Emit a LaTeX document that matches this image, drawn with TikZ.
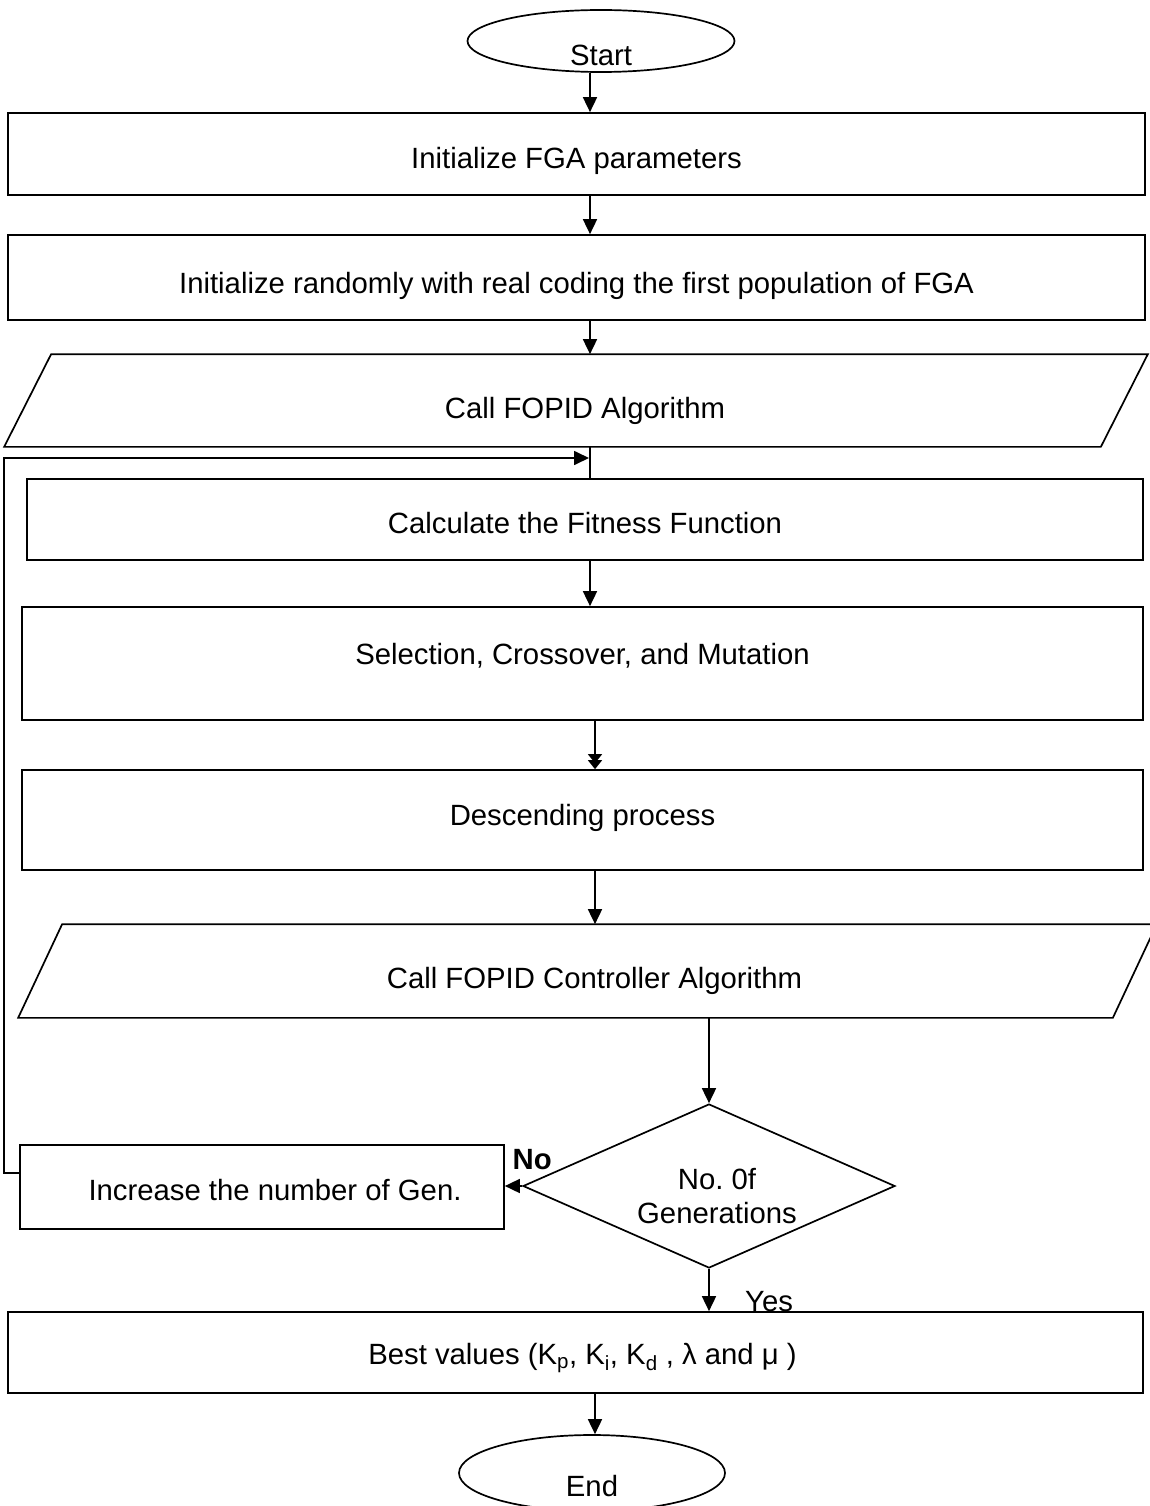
\documentclass[tikz,border=0pt]{standalone}
\usepackage{fontspec}
\setmainfont{Liberation Sans}
\usetikzlibrary{arrows.meta,shapes.geometric,calc}

\begin{document}
\begin{tikzpicture}[x=1pt, y=-1pt, line width=1.7pt]
  % Styles
  \tikzset{
    lab/.style={font=\fontsize{29.3}{34}\selectfont},
    bold/.style={font=\fontsize{29.3}{34}\selectfont\bfseries},
    proc/.style={rectangle,draw,lab,inner sep=0pt,text depth=6pt},
    io/.style={rectangle,lab,inner sep=0pt,text depth=6pt},
    term/.style={ellipse,draw,lab,inner sep=0pt},
    decide/.style={diamond,draw,lab,inner sep=0pt},
    flow/.style={-{Triangle[length=15pt,width=14pt]}},
    dflow/.style={-{Triangle[length=9pt,width=14pt,sep=-3pt]Triangle[length=9pt,width=14pt]}}
  }
  \useasboundingbox (0,0) rectangle (1149,1506);

  %================= MAIN COLUMN =================
  % text height only moves the text up or down inside its box
  \node[term,minimum width=267pt,minimum height=62pt,
        label={[lab,name=start-t,yshift=-14pt]center:Start}] (start) at (601,41) {};

  \node[proc,minimum width=1137pt,minimum height=82pt,text height=35pt] (init) at (576.5,154)
       {Initialize FGA parameters};
  \node[proc,minimum width=1137pt,minimum height=85pt,text height=38pt] (rand) at (576.5,277.5)
       {Initialize randomly with real coding the first population of FGA};
  \node[io,minimum width=1095pt,minimum height=91pt,text height=41pt] (callA) at (576,400.5)
       {\hspace*{18pt}Call FOPID Algorithm};
  \node[proc,minimum width=1116pt,minimum height=81pt,text height=34pt] (fit) at (585,519.5)
       {Calculate the Fitness Function};
  \node[proc,minimum width=1121pt,minimum height=113pt,text height=7pt] (sel) at (582.5,663.5)
       {Selection, Crossover, and Mutation};
  \node[proc,minimum width=1121pt,minimum height=100pt,text height=17pt] (desc) at (582.5,820)
       {Descending process};
  \node[io,minimum width=1093pt,minimum height=92pt,text height=41pt] (callC) at (587.5,971)
       {\hspace*{14pt}Call FOPID Controller Algorithm};

  % Parallelogram outlines of the two call steps
  \draw ([xshift=23.5pt]callA.north west) -- ([xshift=23.5pt]callA.north east)
     -- ([xshift=-23.5pt]callA.south east) -- ([xshift=-23.5pt]callA.south west) -- cycle;
  \draw ([xshift=22pt]callC.north west) -- ([xshift=22pt]callC.north east)
     -- ([xshift=-22pt]callC.south east) -- ([xshift=-22pt]callC.south west) -- cycle;

  %================= DECISION =================
  \node[decide,minimum width=372pt,minimum height=164pt,
        label={[lab,align=center,name=gen-t,xshift=8pt,yshift=-10pt]center:No.\ 0f\\Generations}]
        (gen) at (709,1186) {};
  \node[proc,minimum width=484pt,minimum height=84pt,text height=33pt] (inc) at (262,1187)
       {\hspace*{26pt}Increase the number of Gen.};

  \node[proc,minimum width=1135pt,minimum height=81pt,text height=30pt] (best) at (575.5,1352.5)
       {\hspace*{14pt}Best values (K\textsubscript{p}, K\textsubscript{i}, K\textsubscript{d} , λ and μ )};
  \node[term,minimum width=266pt,minimum height=76pt,
        label={[lab,name=stop-t,yshift=-13pt]center:End}] (stop) at (592,1473) {};

  % Vertical guide lines for the arrows
  \coordinate (spine)  at (590,0);
  \coordinate (spineB) at (595,0);
  \coordinate (join)   at (589,458);

  %================= CONNECTORS =================
  \draw[flow] (start.south -| spine) -- (init.north -| spine);
  \draw[flow] (init.south -| spine) -- (rand.north -| spine);
  \draw[flow] (rand.south -| spine) -- (callA.north -| spine);
  \draw (callA.south -| spine) -- (fit.north -| spine);
  \draw[flow] (fit.south -| spine) -- (sel.north -| spine);
  \draw[dflow] (sel.south -| spineB) -- (desc.north -| spineB);
  \draw[flow] (desc.south -| spineB) -- (callC.north -| spineB);
  \draw[flow] (callC.south -| gen.north) -- (gen.north);

  \draw[flow] (gen.west) -- (gen.west -| inc.east)
     node[bold,pos=0,anchor=south,xshift=10pt,yshift=12pt] {No};
  \draw[flow] (gen.south) -- (best.north -| gen.south)
     node[lab,pos=1,anchor=base west,xshift=32pt] {Yes};
  \draw[flow] (best.south -| spineB) -- (stop.north -| spineB);

  % Loop back to the fitness step
  \draw[flow] ([yshift=14pt]inc.west) -- ++(-15,0) |- (join);

\end{tikzpicture}
\end{document}
